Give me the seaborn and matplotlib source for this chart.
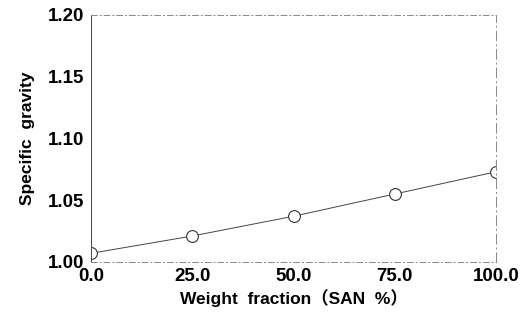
import matplotlib
matplotlib.use("Agg")
import matplotlib.pyplot as plt
import seaborn as sns
import pandas as pd

weight_fraction = [0.0, 25.0, 50.0, 75.0, 100.0]
specific_gravity = [1.007, 1.021, 1.037, 1.055, 1.073]
x_ticks = [0.0, 25.0, 50.0, 75.0, 100.0]
x_tick_labels = ["0.0", "25.0", "50.0", "75.0", "100.0"]
y_ticks = [1.00, 1.05, 1.10, 1.15, 1.20]
y_tick_labels = ["1.00", "1.05", "1.10", "1.15", "1.20"]

sns.set_theme(style="white")
plt.rcParams["font.family"] = ["Liberation Sans", "Noto Sans CJK JP", "DejaVu Sans"]

df = pd.DataFrame({"x": weight_fraction, "y": specific_gravity})

fig = plt.figure(figsize=(5.26, 3.23), dpi=100)
ax = fig.add_axes([0.173, 0.189, 0.770, 0.765])
sns.lineplot(data=df, x="x", y="y", ax=ax, color="#444444", linewidth=0.7,
             marker="o", markersize=8.5, markerfacecolor="white",
             markeredgecolor="#333333", markeredgewidth=0.8)

ax.set_xlim(0, 100)
ax.set_ylim(1.0, 1.2)
ax.set_xticks(x_ticks)
ax.set_xticklabels(x_tick_labels)
ax.set_yticks(y_ticks)
ax.set_yticklabels(y_tick_labels)
for s in ax.spines.values():
    s.set_color("#888888")
    s.set_linewidth(0.7)
ax.spines["top"].set_linestyle((0, (6, 3, 1, 3)))
ax.spines["bottom"].set_linestyle((0, (6, 3, 1, 3)))
ax.spines["right"].set_linestyle((0, (10, 4, 1, 4)))
ax.spines["left"].set_color("#444444")
ax.tick_params(axis="y", length=3, width=0.8, color="#555555", pad=2,
               labelsize=13.5, labelcolor="black")
ax.tick_params(axis="x", length=0, pad=4, labelsize=13.5, labelcolor="black")
for lbl in ax.get_xticklabels() + ax.get_yticklabels():
    lbl.set_fontweight("bold")

ax.set_xlabel("Weight  fraction（SAN  %）", fontsize=12.5, fontweight="bold",
              labelpad=3, color="black")
ax.set_ylabel("Specific  gravity", fontsize=12.5, fontweight="bold",
              labelpad=9, color="black")

fig.savefig("out.png", dpi=100)
